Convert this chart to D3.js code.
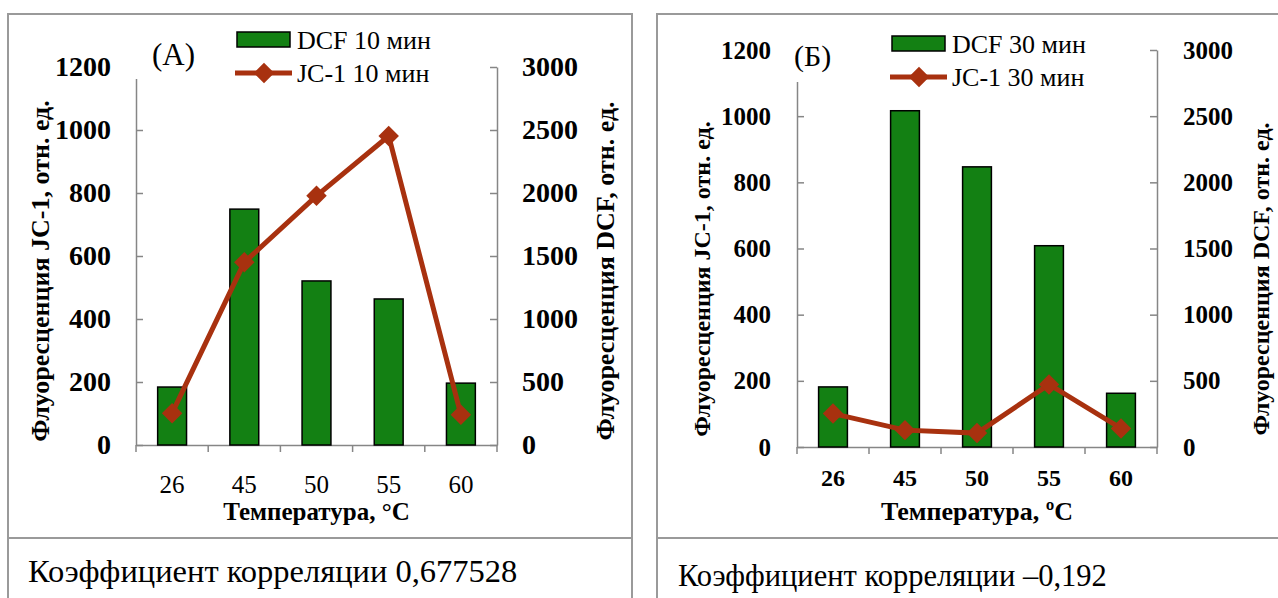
<!DOCTYPE html>
<html>
<head>
<meta charset="utf-8">
<title>DCF / JC-1</title>
<style>
    html, body {
        margin: 0px;
        padding: 0px;
        background-color: #fff;
        font-family: "Liberation Serif";
    }

    .frame {
        fill: none;
        stroke: #9a9a9a;
        stroke-width: 2;
    }

    .axis .domain, .axis line {
        stroke: #868686;
        stroke-width: 1.5;
    }

    .bar, .legend-bar {
        fill: #138013;
        stroke: #000;
        stroke-width: 1.5;
    }

    .jc-line {
        fill: none;
        stroke: #a8310f;
        stroke-width: 5;
    }

    .marker {
        fill: #a8310f;
    }
</style>
<script src="https://cdn.jsdelivr.net/npm/d3@7"></script>
</head>
<body>
<div id="main"></div>

<script>
    // values
    var temperatures = ["26", "45", "50", "55", "60"];
    var dcf10 = [460, 1872, 1302, 1159, 491];
    var jc10 = [101, 580, 791, 981, 96];
    var dcf30 = [454, 2541, 2117, 1521, 406];
    var jc30 = [101, 51, 42, 189, 56];
    var jcTicks = [0, 200, 400, 600, 800, 1000, 1200];
    var dcfTicks = [0, 500, 1000, 1500, 2000, 2500, 3000];
    var jcTitle = "Флуоресценция JC-1, отн. ед.";
    var dcfTitle = "Флуоресценция DCF, отн. ед.";
    var xTitleA = "Температура, °С";
    var xTitleB = "Температура, ºС";
    var serif = "Liberation Serif";

    function label(g, size, bold) {
        return g.append("text")
            .style("font-family", serif)
            .style("font-size", size + "px")
            .style("font-weight", bold ? "bold" : "normal");
    }

    function panel(svg, p) {
        // frames
        svg.append("rect").attr("class", "frame")
            .attr("x", p.frame[0]).attr("y", p.frame[1])
            .attr("width", p.frame[2]).attr("height", p.frame[3]);
        svg.append("rect").attr("class", "frame")
            .attr("x", p.frame[0]).attr("y", p.frame[1] + p.frame[3])
            .attr("width", p.frame[2]).attr("height", 80);

        var x = d3.scaleBand()
            .domain(temperatures)
            .range([p.left, p.right])
            .paddingInner(0.6)
            .paddingOuter(0.3);

        var yJc = d3.scaleLinear().domain([0, 1200]).range([p.bottom, p.top]);
        var yDcf = d3.scaleLinear().domain([0, 3000]).range([p.bottom, p.top]);

        var left = svg.append("g")
            .attr("class", "axis")
            .attr("transform", "translate(" + p.left + ",0)")
            .call(d3.axisLeft(yJc).tickValues(jcTicks).tickFormat(d3.format("d"))
                .tickSize(-7).tickSizeOuter(0).tickPadding(p.yPad));
        var right = svg.append("g")
            .attr("class", "axis")
            .attr("transform", "translate(" + p.right + ",0)")
            .call(d3.axisRight(yDcf).tickValues(dcfTicks).tickFormat(d3.format("d"))
                .tickSize(-7).tickSizeOuter(0).tickPadding(p.yPad));

        // x axis: labels centred, ticks on category boundaries
        var bottom = svg.append("g")
            .attr("class", "axis")
            .attr("transform", "translate(0," + p.bottom + ")")
            .call(d3.axisBottom(x).tickSize(0).tickSizeOuter(0).tickPadding(p.xPad));
        bottom.selectAll(".bound")
            .data(d3.range(temperatures.length + 1))
            .enter()
            .append("line")
            .attr("x1", function(i) { return x.range()[0] + i * x.step(); })
            .attr("x2", function(i) { return x.range()[0] + i * x.step(); })
            .attr("y1", 0)
            .attr("y2", 7);

        [left, right, bottom].forEach(function(g) {
            g.attr("font-family", serif).attr("font-size", null);
            g.selectAll("text")
                .style("font-family", serif)
                .style("font-size", (g === bottom ? p.xFont : p.yFont) + "px")
                .style("font-weight", (g === bottom && !p.xBold) ? "normal" : "bold");
        });

        label(svg, p.xTitleFont, true)
            .attr("x", (p.left + p.right) / 2)
            .attr("y", p.xTitleY)
            .style("text-anchor", "middle")
            .text(p.xTitle);

        label(svg, p.titleFont, true)
            .attr("transform", "translate(" + p.leftTitleX + "," + p.titleY + ") rotate(-90)")
            .attr("dy", "0.35em")
            .style("text-anchor", "middle")
            .text(jcTitle);
        label(svg, p.titleFont, true)
            .attr("transform", "translate(" + p.rightTitleX + "," + p.titleY + ") rotate(-90)")
            .attr("dy", "0.35em")
            .style("text-anchor", "middle")
            .text(dcfTitle);

        // DCF bars on the right axis
        svg.selectAll(".bar-" + p.id)
            .data(p.dcf)
            .enter()
            .append("rect")
            .attr("class", "bar")
            .attr("x", function(d, i) { return x(temperatures[i]); })
            .attr("y", function(d) { return yDcf(d); })
            .attr("width", x.bandwidth())
            .attr("height", function(d) { return p.bottom - yDcf(d); });

        // JC-1 line on the left axis
        var cx = function(d, i) { return x(temperatures[i]) + x.bandwidth() / 2; };
        svg.append("path")
            .attr("class", "jc-line")
            .attr("d", d3.line().x(cx).y(function(d) { return yJc(d); })(p.jc));

        var diamond = d3.symbol().type(d3.symbolSquare).size(210);
        svg.selectAll(".marker-" + p.id)
            .data(p.jc)
            .enter()
            .append("path")
            .attr("class", "marker")
            .attr("d", diamond)
            .attr("transform", function(d, i) {
                return "translate(" + cx(d, i) + "," + yJc(d) + ") rotate(45)";
            });

        // legend (white box hides the top of the left axis, as in the picture)
        var lg = p.legend;
        svg.append("rect")
            .attr("x", lg.bg[0]).attr("y", lg.bg[1])
            .attr("width", lg.bg[2]).attr("height", lg.bg[3])
            .attr("fill", "#fff");
        svg.append("rect")
            .attr("class", "legend-bar")
            .attr("x", lg.x).attr("y", lg.y1 - 8)
            .attr("width", 53).attr("height", 15);
        svg.append("line")
            .attr("x1", lg.x - 2).attr("x2", lg.x + 55)
            .attr("y1", lg.y2).attr("y2", lg.y2)
            .attr("stroke", "#a8310f").attr("stroke-width", 5);
        svg.append("path")
            .attr("class", "marker")
            .attr("d", diamond)
            .attr("transform", "translate(" + (lg.x + 27) + "," + lg.y2 + ") rotate(45)");
        label(svg, lg.font, false)
            .attr("x", lg.x + 60).attr("y", lg.y1).attr("dy", "0.35em")
            .text(p.dcfName);
        label(svg, lg.font, false)
            .attr("x", lg.x + 60).attr("y", lg.y2).attr("dy", "0.35em")
            .text(p.jcName);

        label(svg, p.letter[2], false)
            .attr("x", p.letter[0]).attr("y", p.letter[1])
            .text(p.letterText);

        label(svg, p.note[2], false)
            .attr("x", p.note[0]).attr("y", p.note[1])
            .text(p.noteText);
    }

    function main() {
        var svg = d3.select("#main")
            .append("svg")
            .attr("width", width)
            .attr("height", height)
            .attr("font-family", serif);

        panel(svg, {
            id: "a",
            frame: [8, 14, 624, 524],
            left: 136, right: 497, top: 67, bottom: 445,
            yFont: 28, yPad: 25,
            xFont: 25, xBold: false, xPad: 30,
            xTitle: xTitleA, xTitleY: 520, xTitleFont: 25,
            titleFont: 26, leftTitleX: 40, rightTitleX: 605, titleY: 271,
            dcf: dcf10, jc: jc10,
            dcfName: "DCF 10 мин", jcName: "JC-1 10 мин",
            legend: { bg: [124, 18, 320, 61], x: 237, y1: 40, y2: 73, font: 26 },
            letter: [152, 65, 31], letterText: "(A)",
            note: [28, 582, 32.5], noteText: "Коэффициент корреляции 0,677528"
        });

        panel(svg, {
            id: "b",
            frame: [657, 14, 640, 524],
            left: 797, right: 1157, top: 50, bottom: 447,
            yFont: 25, yPad: 26,
            xFont: 24, xBold: true, xPad: 22,
            xTitle: xTitleB, xTitleY: 520, xTitleFont: 26,
            titleFont: 24, leftTitleX: 702, rightTitleX: 1261, titleY: 279,
            dcf: dcf30, jc: jc30,
            dcfName: "DCF 30 мин", jcName: "JC-1 30 мин",
            legend: { bg: [785, 22, 315, 60], x: 892, y1: 44, y2: 77, font: 26 },
            letter: [794, 66, 30], letterText: "(Б)",
            note: [678, 586, 30.5], noteText: "Коэффициент корреляции –0,192"
        });
    }

    var width = 1278;
    var height = 598;

    main();
</script>
</body>
</html>
